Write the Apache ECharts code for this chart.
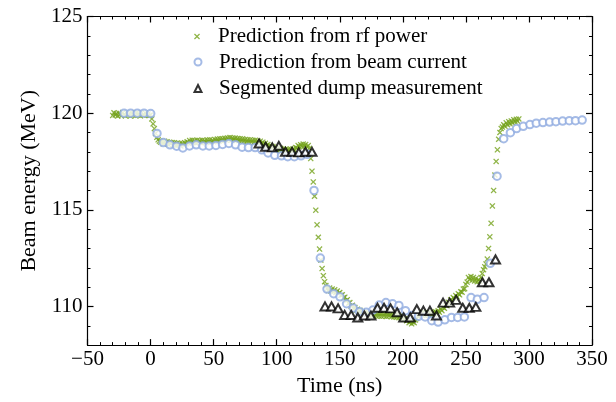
<!DOCTYPE html>
<html>
<head>
<meta charset="utf-8">
<script src="https://cdn.jsdelivr.net/npm/echarts@6/dist/echarts.min.js"></script>
<style>
html,body{margin:0;padding:0;background:#fff;}
#chart{width:616px;height:402px;}
</style>
</head>
<body>
<div id="chart"></div>
<script>
// ---- data ----
var seriesNames = ['Prediction from rf power', 'Prediction from beam current', 'Segmented dump measurement'];
var xTicks = [-50, 0, 50, 100, 150, 200, 250, 300, 350];
var yTicks = [110, 115, 120, 125];

// rf power prediction: sampled every 1 ns starting at -30 ns
var rfStart = -30;
var rfEnergy = [
119.88,120.02,119.9,119.98,119.85,120.0,119.92,119.87,120.03,119.93,
119.86,120.0,119.91,119.97,119.85,120.01,119.9,119.95,119.87,120.02,
119.89,119.98,119.86,120.01,119.92,119.88,120.0,119.9,119.96,119.88,
119.9,119.7,119.45,119.2,118.95,118.75,118.62,118.55,118.5,118.55,
118.42,118.55,118.46,118.52,118.38,118.5,118.42,118.48,118.36,118.47,
118.32,118.45,118.35,118.42,118.3,118.44,118.36,118.47,118.4,118.52,
118.45,118.58,118.46,118.6,118.48,118.59,118.45,118.6,118.5,118.58,
118.47,118.6,118.5,118.58,118.48,118.61,118.5,118.62,118.49,118.6,
118.52,118.64,118.55,118.66,118.54,118.67,118.58,118.68,118.57,118.7,
118.6,118.72,118.62,118.74,118.6,118.72,118.63,118.71,118.59,118.69,
118.58,118.68,118.55,118.67,118.54,118.64,118.52,118.63,118.5,118.62,
118.5,118.6,118.48,118.6,118.47,118.57,118.44,118.55,118.42,118.5,
118.35,118.44,118.3,118.38,118.24,118.32,118.18,118.27,118.14,118.22,
118.1,118.2,118.06,118.18,118.04,118.15,118.02,118.13,118.05,118.12,
118.03,118.14,118.02,118.15,118.08,118.22,118.2,118.33,118.26,118.37,
118.28,118.4,118.3,118.38,118.25,118.32,118.18,117.65,117.0,116.44,
115.7,114.98,114.22,113.58,112.97,112.4,111.96,111.59,111.28,111.08,
110.92,110.82,110.95,110.8,110.9,110.76,110.86,110.72,110.8,110.66,
110.72,110.58,110.6,110.45,110.48,110.3,110.35,110.16,110.2,110.02,
110.06,109.9,109.95,109.8,109.86,109.72,109.8,109.66,109.74,109.62,
109.7,109.58,109.66,109.54,109.64,109.52,109.63,109.5,109.62,109.5,
109.63,109.5,109.62,109.49,109.63,109.5,109.62,109.48,109.6,109.5,
109.6,109.47,109.6,109.46,109.58,109.44,109.56,109.42,109.52,109.4,
109.46,109.34,109.38,109.26,109.3,109.16,109.22,109.1,109.2,109.16,
109.3,109.38,109.5,109.52,109.64,109.56,109.7,109.55,109.68,109.54,
109.68,109.55,109.69,109.56,109.7,109.58,109.72,109.62,109.78,109.7,
109.86,109.78,109.95,109.9,110.08,110.04,110.22,110.16,110.34,110.3,
110.46,110.4,110.56,110.5,110.66,110.6,110.76,110.74,110.9,110.92,
111.14,111.26,111.5,111.4,111.55,111.36,111.5,111.32,111.45,111.28,
111.38,111.3,111.5,111.7,111.9,112.05,112.2,112.45,113.0,113.6,
114.3,115.2,116.0,116.8,117.5,118.1,118.65,119.0,119.2,119.28,
119.4,119.32,119.5,119.4,119.56,119.45,119.6,119.5,119.66,119.55,
119.68,119.58,119.7
];

// beam current prediction
var bcTime = [-21,-15.8,-10.5,-5.2,0.1,5.1,10.1,15.4,20.7,25.6,
30.9,36.2,41.5,46.5,51.8,57.1,62.1,67.4,72.6,77.6,
82.9,88.2,93.2,98.5,103.8,108.8,114,119.3,124.3,129.6,
134.6,139.9,145.2,150.2,155.4,160.7,165.7,171,176.3,181.3,
186.6,191.9,196.9,202.1,207.4,212.4,217.7,223,228,233.3,
238.6,243.5,248.8,254.1,259.1,264.4,269.4,274.7,280,285.3,
290.2,295.5,300.8,305.8,311.1,316.4,321.4,326.7,332,336.9,342.2];
var bcEnergy = [120.0,120.0,120.0,120.0,119.98,118.95,118.48,118.36,118.29,118.2,
118.3,118.36,118.3,118.3,118.33,118.38,118.43,118.36,118.24,118.22,
118.22,118.1,117.94,117.82,117.79,117.75,117.75,117.79,117.87,116.0,
112.5,110.9,110.66,110.5,110.14,109.92,109.73,109.7,109.81,110.07,
110.2,110.14,110.05,109.78,109.53,109.49,109.46,109.26,109.19,109.31,
109.43,109.43,109.46,110.46,110.37,110.46,112.23,116.74,118.68,118.99,
119.2,119.32,119.41,119.48,119.51,119.54,119.56,119.59,119.61,119.61,119.64];

// segmented dump measurement
var dmTime = [86,91.2,96.5,101.7,107,112.2,117.5,122.7,128,
138.3,143.5,148.7,153.9,159.1,164.3,169.5,174.7,179.9,185.1,
190.3,195.5,200.7,205.9,211.1,216.3,221.5,226.7,231.9,237.1,
242.3,247.5,252.7,257.9,263.1,268.3,273.5];
var dmEnergy = [118.43,118.26,118.23,118.31,118.0,118.0,117.97,118.0,118.0,
110.0,110.0,109.9,109.56,109.56,109.43,109.53,109.53,109.93,109.93,
109.9,109.7,109.43,109.43,109.86,109.78,109.78,109.53,110.2,110.2,
110.34,109.93,109.93,109.98,111.25,111.25,112.43];

// ---- build ----
var rfData = rfEnergy.map(function (v, i) { return [rfStart + i, v]; });
var bcData = bcTime.map(function (t, i) { return [t, bcEnergy[i]]; });
var dmData = dmTime.map(function (t, i) { return [t, dmEnergy[i]]; });

var FONT = '"Liberation Serif", "Times New Roman", serif';
var GREEN = '#74a31c';
var BLUE = '#8eaae0';
var XPATH = 'path://M0,1.5L1.5,0L5,3.5L8.5,0L10,1.5L6.5,5L10,8.5L8.5,10L5,6.5L1.5,10L0,8.5L3.5,5Z';

function fmtMinus(v) { return String(v).replace('-', '\u2212'); }

var lineStyle = { color: '#000', width: 1.2 };

var chart = echarts.init(document.getElementById('chart'), null, { renderer: 'canvas' });
chart.setOption({
  animation: false,
  backgroundColor: '#fff',
  grid: { left: 87.5, right: 24, top: 16.5, bottom: 53 },
  legend: [
    { data: [seriesNames[0]], left: 194, top: 26, padding: 0, itemWidth: 6, itemHeight: 6,
      icon: XPATH, textStyle: { fontFamily: FONT, fontSize: 21, color: '#000', padding: [0, 0, 0, 13] } },
    { data: [seriesNames[1]], left: 193.5, top: 51.5, padding: 0, itemWidth: 7, itemHeight: 7,
      icon: 'emptyCircle', itemStyle: { borderWidth: 1 },
      textStyle: { fontFamily: FONT, fontSize: 21, color: '#000', padding: [0, 0, 0, 12.5] } },
    { data: [seriesNames[2]], left: 193.5, top: 78, padding: 0, itemWidth: 7, itemHeight: 7,
      icon: 'emptyTriangle', itemStyle: { borderWidth: 1 },
      textStyle: { fontFamily: FONT, fontSize: 21, color: '#000', padding: [0, 0, 0, 12.5] } }
  ],
  xAxis: [
    { type: 'value', position: 'bottom', min: -50, max: 350, interval: 50,
      axisLine: { show: true, onZero: false, lineStyle: lineStyle },
      axisTick: { show: true, inside: true, length: 6, lineStyle: lineStyle },
      minorTick: { show: true, splitNumber: 5, length: 3, lineStyle: { color: '#000', width: 1 } },
      splitLine: { show: false },
      axisLabel: { fontFamily: FONT, fontSize: 21, color: '#000', margin: 4, formatter: fmtMinus },
      name: 'Time (ns)', nameLocation: 'middle', nameGap: 26,
      nameTextStyle: { fontFamily: FONT, fontSize: 22, color: '#000' } },
    { type: 'value', position: 'top', min: -50, max: 350, interval: 50,
      axisLine: { show: true, onZero: false, lineStyle: lineStyle },
      axisTick: { show: true, inside: true, length: 6, lineStyle: lineStyle },
      minorTick: { show: true, splitNumber: 5, length: 3, lineStyle: { color: '#000', width: 1 } },
      splitLine: { show: false }, axisLabel: { show: false } }
  ],
  yAxis: [
    { type: 'value', position: 'left', min: 108, max: 125, interval: 1,
      axisLine: { show: true, onZero: false, lineStyle: lineStyle },
      axisTick: { show: true, inside: true, length: 3, lineStyle: { color: '#000', width: 1 } },
      splitLine: { show: false },
      axisLabel: { fontFamily: FONT, fontSize: 21, color: '#000', margin: 5,
        formatter: function (v) { return yTicks.indexOf(v) >= 0 ? String(v) : ''; } },
      name: 'Beam energy (MeV)', nameLocation: 'middle', nameGap: 47,
      nameTextStyle: { fontFamily: FONT, fontSize: 22, color: '#000' } },
    { type: 'value', position: 'left', min: 108, max: 125,
      axisLine: { show: false, onZero: false },
      axisTick: { show: true, inside: true, length: 6, customValues: yTicks, lineStyle: lineStyle },
      splitLine: { show: false }, axisLabel: { show: false } },
    { type: 'value', position: 'right', min: 108, max: 125, interval: 1,
      axisLine: { show: true, onZero: false, lineStyle: lineStyle },
      axisTick: { show: true, inside: true, length: 3, lineStyle: { color: '#000', width: 1 } },
      splitLine: { show: false }, axisLabel: { show: false } },
    { type: 'value', position: 'right', min: 108, max: 125,
      axisLine: { show: false, onZero: false },
      axisTick: { show: true, inside: true, length: 6, customValues: yTicks, lineStyle: lineStyle },
      splitLine: { show: false }, axisLabel: { show: false } }
  ],
  series: [
    { name: seriesNames[0], type: 'scatter', data: rfData, symbol: XPATH, symbolSize: 6,
      itemStyle: { color: GREEN }, z: 2 },
    { name: seriesNames[1], type: 'scatter', data: bcData, symbol: 'emptyCircle', symbolSize: 7.5,
      itemStyle: { color: BLUE, borderWidth: 1 }, z: 3 },
    { name: seriesNames[2], type: 'scatter', data: dmData, symbol: 'emptyTriangle', symbolSize: [9, 8],
      itemStyle: { color: '#000', borderWidth: 1 }, z: 4 }
  ]
});
</script>
</body>
</html>
